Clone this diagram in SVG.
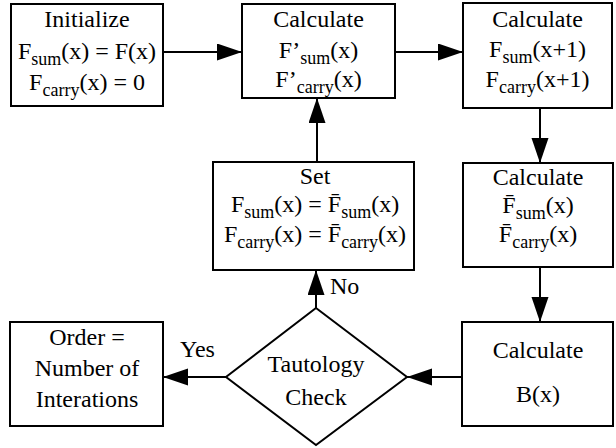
<svg xmlns="http://www.w3.org/2000/svg" width="616" height="448" viewBox="0 0 616 448">
<style>
.box{fill:#fff;stroke:#000;stroke-width:2}
.t{font-family:"Liberation Serif","Times New Roman","DejaVu Serif",serif;font-size:24px;fill:#000;text-anchor:middle}
.l{font-family:"Liberation Serif","Times New Roman","DejaVu Serif",serif;font-size:24px;fill:#000}
.s{font-size:18px}
.c{fill:none;stroke:#000;stroke-width:2}
</style>
<defs>
<marker id="ah" markerUnits="userSpaceOnUse" markerWidth="26" markerHeight="18" refX="25" refY="8.5" orient="auto">
<path d="M0,0 L25,8.5 L0,17 Z" fill="#000"/>
</marker>
</defs>
<rect width="616" height="448" fill="#fff"/>
<g id="connectors">
<line class="c" x1="163" y1="52" x2="242" y2="52" marker-end="url(#ah)"/>
<line class="c" x1="395" y1="52" x2="463" y2="52" marker-end="url(#ah)"/>
<line class="c" x1="540" y1="108" x2="540" y2="163" marker-end="url(#ah)"/>
<line class="c" x1="540" y1="267" x2="540" y2="322" marker-end="url(#ah)"/>
<line class="c" x1="462" y1="377" x2="407" y2="377" marker-end="url(#ah)"/>
<line class="c" x1="316" y1="308" x2="316" y2="270" marker-end="url(#ah)"/>
<line class="c" x1="317" y1="162" x2="317" y2="98" marker-end="url(#ah)"/>
<line class="c" x1="226" y1="377" x2="163" y2="377" marker-end="url(#ah)"/>
<text class="l" x="330" y="294">No</text>
<text class="l" x="180" y="357">Yes</text>
</g>
<g id="init">
<rect class="box" x="11" y="4" width="152" height="102"/>
<text class="t" x="87" y="27">Initialize</text>
<text class="t" x="87" y="59">F<tspan class="s" dy="6">sum</tspan><tspan dy="-6">(x) = F(x)</tspan></text>
<text class="t" x="87" y="90">F<tspan class="s" dy="6">carry</tspan><tspan dy="-6">(x) = 0</tspan></text>
</g>
<g id="calcPrime">
<rect class="box" x="242" y="4" width="153" height="94"/>
<text class="t" x="318.5" y="27">Calculate</text>
<text class="t" x="318.5" y="58">F’<tspan class="s" dy="6">sum</tspan><tspan dy="-6">(x)</tspan></text>
<text class="t" x="318.5" y="87">F’<tspan class="s" dy="6">carry</tspan><tspan dy="-6">(x)</tspan></text>
</g>
<g id="calcNext">
<rect class="box" x="463" y="3" width="149" height="105"/>
<text class="t" x="537.5" y="27">Calculate</text>
<text class="t" x="537.5" y="57">F<tspan class="s" dy="6">sum</tspan><tspan dy="-6">(x+1)</tspan></text>
<text class="t" x="537.5" y="87">F<tspan class="s" dy="6">carry</tspan><tspan dy="-6">(x+1)</tspan></text>
</g>
<g id="calcBar">
<rect class="box" x="463" y="163" width="150" height="104"/>
<text class="t" x="538" y="185">Calculate</text>
<text class="t" x="538" y="213">F̄<tspan class="s" dy="6">sum</tspan><tspan dy="-6">(x)</tspan></text>
<text class="t" x="538" y="242">F̄<tspan class="s" dy="6">carry</tspan><tspan dy="-6">(x)</tspan></text>
</g>
<g id="set">
<rect class="box" x="213" y="162" width="201" height="108"/>
<text class="t" x="315" y="184">Set</text>
<text class="t" x="315" y="212">F<tspan class="s" dy="6">sum</tspan><tspan dy="-6">(x) = F̄</tspan><tspan class="s" dy="6">sum</tspan><tspan dy="-6">(x)</tspan></text>
<text class="t" x="315" y="242">F<tspan class="s" dy="6">carry</tspan><tspan dy="-6">(x) = F̄</tspan><tspan class="s" dy="6">carry</tspan><tspan dy="-6">(x)</tspan></text>
</g>
<g id="calcB">
<rect class="box" x="462" y="322" width="151" height="104"/>
<text class="t" x="538" y="358">Calculate</text>
<text class="t" x="538" y="402">B(x)</text>
</g>
<g id="tautology">
<path class="box" d="M316,308 L407,377 L316,445 L226,377 Z"/>
<text class="t" x="316" y="372">Tautology</text>
<text class="t" x="316" y="405">Check</text>
</g>
<g id="order">
<rect class="box" x="10" y="322" width="153" height="104"/>
<text class="t" x="87" y="345">Order =</text>
<text class="t" x="87" y="376">Number of</text>
<text class="t" x="87" y="407">Interations</text>
</g>
</svg>
